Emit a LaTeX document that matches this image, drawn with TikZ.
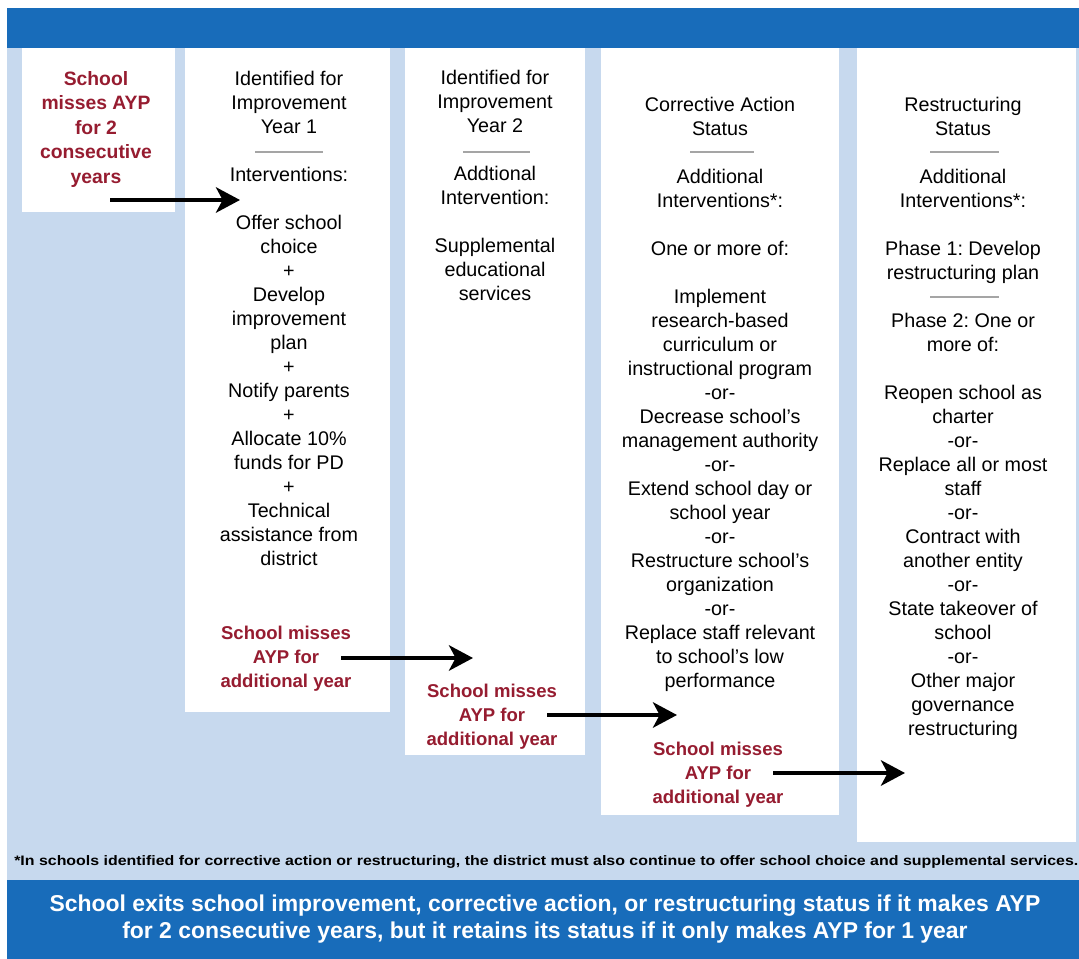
\documentclass[tikz,border=0pt]{standalone}
\usepackage{fontspec}
\setmainfont{Liberation Sans}
\usepackage{xcolor}
\usepackage{graphicx}
\usetikzlibrary{arrows.meta}
\definecolor{bandblue}{RGB}{24,108,186}
\definecolor{paleblue}{RGB}{199,217,238}
\definecolor{missred}{RGB}{150,28,48}
\definecolor{rulegray}{RGB}{165,165,165}
\frenchspacing

\begin{document}
\begin{tikzpicture}[x=0.75pt,y=-0.75pt,
  col/.style={align=center,inner sep=0pt,anchor=north,font=\fontsize{14.8}{18}\selectfont},
  miss/.style={align=center,inner sep=0pt,anchor=north,text=missred,font=\bfseries\fontsize{13.9}{18}\selectfont},
  flow/.style={line width=3.4pt,-{Stealth[length=18pt,width=19pt,inset=5pt]}},
  sep/.style={rulegray,line width=0.8pt}]
\useasboundingbox (0,0) rectangle (1079,959);
% background and bands
\fill [bandblue] (7,8) rectangle (1079,48);
\fill [paleblue] (7,48) rectangle (1079,880);
\fill [bandblue] (7,880) rectangle (1079,959);
% the five columns
\fill [white] (22,48) rectangle (175,212);
\fill [white] (185,48) rectangle (390,712);
\fill [white] (405,48) rectangle (585,755);
\fill [white] (601,48) rectangle (839,815);
\fill [white] (857,48) rectangle (1076,842);

% start
\node [miss, font=\bfseries\fontsize{14.5}{18.4}\selectfont] (miss0) at (96,71)
  {School\\ misses AYP\\ for 2\\ consecutive\\ years};

% year 1
\node [col] (year1) at (289,71) {Identified for\\ Improvement\\ Year 1\\[18pt]
  Interventions:\\[18pt] Offer school\\ choice\\ +\\ Develop\\ improvement\\ plan\\ +\\
  Notify parents\\ +\\ Allocate 10\%\\ funds for PD\\ +\\ Technical\\ assistance from\\ district};
\draw [sep] (255,152) -- (323,152);
\node [miss] (miss1) at (286,626) {School misses\\ AYP for\\ additional year};

% year 2
\node [col] (year2) at (495,70) {Identified for\\ Improvement\\ Year 2\\[18pt]
  Addtional\\ Intervention:\\[18pt] Supplemental\\ educational\\ services};
\draw [sep] (463,152) -- (530,152);
\node [miss] (miss2) at (492,684) {School misses\\ AYP for\\ additional year};

% corrective action
\node [col] (corr) at (720,97) {Corrective Action\\ Status\\[18pt]
  Additional\\ Interventions*:\\[18pt] One or more of:\\[18pt]
  Implement\\ research-based\\ curriculum or\\ instructional program\\ -or-\\
  Decrease school's\\ management authority\\ -or-\\ Extend school day or\\ school year\\ -or-\\
  Restructure school's\\ organization\\ -or-\\ Replace staff relevant\\ to school's low\\ performance};
\draw [sep] (690,152) -- (754,152);
\node [miss] (miss3) at (718,742) {School misses\\ AYP for\\ additional year};

% restructuring
\node [col] (restr) at (963,97) {Restructuring\\ Status\\[18pt]
  Additional\\ Interventions*:\\[18pt] Phase 1: Develop\\ restructuring plan\\[18pt]
  Phase 2: One or\\ more of:\\[18pt] Reopen school as\\ charter\\ -or-\\
  Replace all or most\\ staff\\ -or-\\ Contract with\\ another entity\\ -or-\\
  State takeover of\\ school\\ -or-\\ Other major\\ governance\\ restructuring};
\draw [sep] (930,152) -- (999,152);
\draw [sep] (930,297) -- (999,297);

% arrows
\coordinate (s0) at (110,200);  \coordinate (t0) at (240,200);
\coordinate (s1) at (341,658);  \coordinate (t1) at (473,658);
\coordinate (s2) at (547,715);  \coordinate (t2) at (677,715);
\coordinate (s3) at (773,773);  \coordinate (t3) at (905,773);
\draw [flow] (s0) -- (t0);
\draw [flow] (s1) -- (t1);
\draw [flow] (s2) -- (t2);
\draw [flow] (s3) -- (t3);

% footnote and exit rule
\node [anchor=west, inner sep=0pt, font=\bfseries\fontsize{10.3}{12}\selectfont] (note) at (14,862)
  {\scalebox{1.16}[1]{*In schools identified for corrective action or restructuring, the district must also continue to offer school choice and supplemental services.}};
\node [align=center, inner sep=0pt, text=white, font=\bfseries\fontsize{17.2}{20.3}\selectfont] (exit) at (545,919)
  {School exits school improvement, corrective action, or restructuring status if it makes AYP\\
   for 2 consecutive years, but it retains its status if it only makes AYP for 1 year};
\end{tikzpicture}
\end{document}
